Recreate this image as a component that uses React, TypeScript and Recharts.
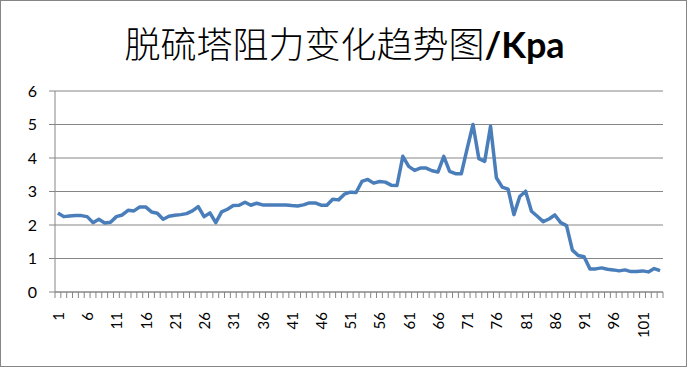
import * as React from "react";
import { LineChart, Line, XAxis, YAxis, CartesianGrid } from "recharts";

// resistance readings (kPa), one per sample
const resistance = [
  2.36, 2.25, 2.27, 2.28, 2.28, 2.25, 2.07, 2.17, 2.06, 2.08,
  2.25, 2.3, 2.44, 2.42, 2.54, 2.54, 2.39, 2.35, 2.17, 2.26,
  2.29, 2.31, 2.34, 2.42, 2.55, 2.25, 2.36, 2.07, 2.39, 2.47,
  2.58, 2.59, 2.68, 2.59, 2.65, 2.6, 2.6, 2.6, 2.6, 2.6,
  2.58, 2.57, 2.6, 2.66, 2.66, 2.59, 2.59, 2.77, 2.75, 2.92,
  2.98, 2.97, 3.3, 3.36, 3.25, 3.3, 3.28, 3.19, 3.18, 4.05,
  3.75, 3.63, 3.7, 3.7, 3.62, 3.58, 4.05, 3.6, 3.53, 3.53,
  4.28, 5.0, 3.98, 3.9, 4.95, 3.41, 3.13, 3.07, 2.31, 2.85,
  3.01, 2.41, 2.26, 2.1, 2.18, 2.3, 2.07, 1.98, 1.25, 1.09,
  1.05, 0.69, 0.69, 0.72, 0.68, 0.66, 0.63, 0.66, 0.61, 0.61,
  0.63, 0.6, 0.7, 0.64,
];
const samples = resistance.map((_, i) => String(i + 1));
const yTicks = [0, 1, 2, 3, 4, 5, 6];

const data = samples.map((name, i) => ({ name, value: resistance[i] }));

const W = 687;
const H = 367;
const PLOT_LEFT = 55;
const PLOT_RIGHT = 663;
const PLOT_TOP = 91;
const PLOT_BOTTOM = 292;
const STEP = (PLOT_RIGHT - PLOT_LEFT) / samples.length;
const GRAY = "#868686";
const FONT = "Lato, 'Open Sans', sans-serif";

const XTick = (props: any) => {
  const { x, y, payload, index } = props;
  const left = x - STEP / 2;
  const last = index === samples.length - 1;
  return (
    <g>
      <line x1={left} x2={left} y1={y} y2={y + 6} stroke={GRAY} />
      {last && <line x1={x + STEP / 2} x2={x + STEP / 2} y1={y} y2={y + 6} stroke={GRAY} />}
      {index % 5 === 0 && (
        <text
          x={0}
          y={0}
          transform={`translate(${x},${y + 20}) rotate(-90)`}
          textAnchor="end"
          dominantBaseline="central"
          fontSize={15}
          fontFamily={FONT}
          fill="#000"
        >
          {payload.value}
        </text>
      )}
    </g>
  );
};

export default function App() {
  return (
    <div
      style={{
        position: "absolute",
        left: 0,
        top: 0,
        width: W,
        height: H,
        boxSizing: "border-box",
        border: `1px solid ${GRAY}`,
        background: "#fff",
      }}
    >
      <div
        style={{
          position: "absolute",
          left: 0,
          top: 18,
          width: W,
          textAlign: "center",
          fontSize: 36,
          lineHeight: "46px",
          fontFamily: "'Noto Sans CJK SC', sans-serif",
          color: "#000",
        }}
      >
        <span style={{ fontWeight: 300 }}>脱硫塔阻力变化趋势图</span>
        <span style={{ fontWeight: 700, fontFamily: FONT }}>/Kpa</span>
      </div>
      <div style={{ position: "absolute", left: -1, top: -1 }}>
        <LineChart
          width={W}
          height={H}
          data={data}
          margin={{ top: PLOT_TOP, right: W - PLOT_RIGHT, bottom: 0, left: 0 }}
        >
          <CartesianGrid vertical={false} stroke={GRAY} strokeDasharray="" />
          <XAxis
            dataKey="name"
            interval={0}
            tickSize={0}
            tickMargin={0}
            tickLine={false}
            padding={{ left: STEP / 2, right: STEP / 2 }}
            axisLine={{ stroke: GRAY }}
            tick={<XTick />}
            height={H - PLOT_BOTTOM}
          />
          <YAxis
            width={PLOT_LEFT}
            domain={[0, 6]}
            ticks={yTicks}
            interval={0}
            tickSize={6}
            tickMargin={12}
            axisLine={{ stroke: GRAY }}
            tickLine={{ stroke: GRAY }}
            tick={{ fill: "#000", fontSize: 16, fontFamily: FONT }}
          />
          <Line
            type="linear"
            dataKey="value"
            stroke="#4a7ebb"
            strokeWidth={3.5}
            dot={false}
            strokeLinejoin="round"
            isAnimationActive={false}
          />
        </LineChart>
      </div>
    </div>
  );
}
